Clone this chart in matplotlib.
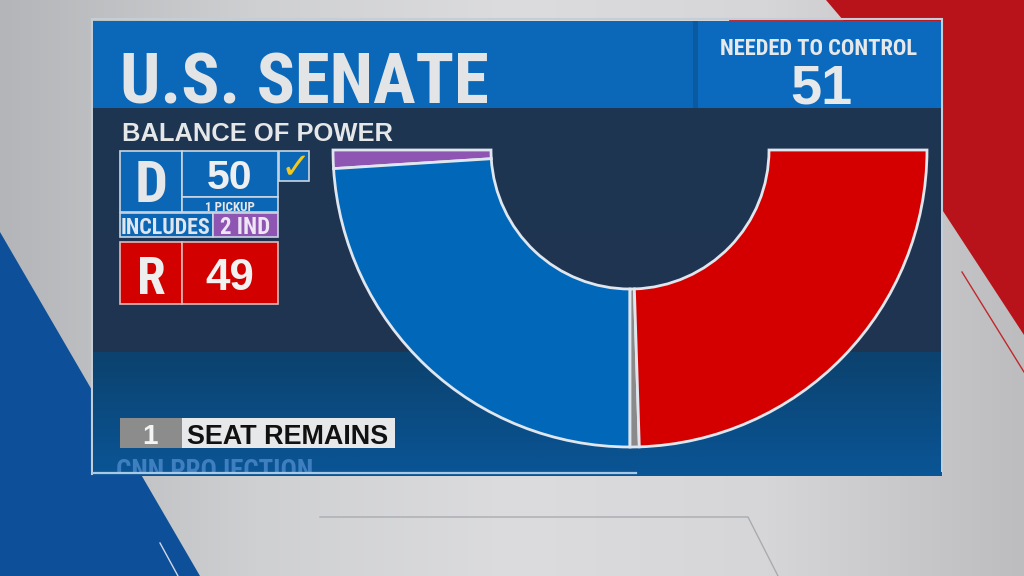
import matplotlib
matplotlib.use("Agg")
import matplotlib.pyplot as plt
import numpy as np
from matplotlib import font_manager
from matplotlib.colors import LinearSegmentedColormap
from matplotlib.patches import Polygon, Rectangle
from matplotlib.transforms import Bbox, TransformedBbox

# seats around the arc, left to right
parties = ["IND", "DEM", "UNCALLED", "REP"]
seats = [2, 48, 1, 49]
seat_colors = ["#8e55b3", "#0067b9", "#8a8a8a", "#d40000"]

dem_total = 50
rep_total = 49
ind_count = 2
pickups = 1
needed = 51
remaining = 1

installed = {f.name for f in font_manager.fontManager.ttflist}


def pick(*names):
    for n in names:
        if n in installed:
            return n
    return "DejaVu Sans"


NARROW = pick("Liberation Sans Narrow", "Roboto Condensed", "DejaVu Sans")
WIDE = pick("Liberation Sans", "Roboto", "DejaVu Sans")


def px(p):
    # pixel height of the em -> points at 100 dpi
    return p * 0.72


def txt(ax, x, y, s, size, color, fam=None, ha="left", zorder=7, **kw):
    fam = fam or NARROW
    return ax.text(x, y, s, fontsize=px(size), family=[fam, "DejaVu Sans"],
                   fontweight="bold", color=color, ha=ha, va="baseline",
                   zorder=zorder, **kw)


def vgrad(ax, x0, x1, y0, y1, c0, c1, z):
    cm = LinearSegmentedColormap.from_list("g", [c0, c1])
    ax.imshow(np.linspace(0, 1, 64).reshape(-1, 1), cmap=cm, aspect="auto",
              extent=(x0, x1, y1, y0), zorder=z, interpolation="bicubic")


def box(ax, x, y, w, h, fc, z=4, ec="#c9d5e2", lw=1.2):
    ax.add_patch(Rectangle((x, y), w, h, facecolor=fc, edgecolor=ec,
                           linewidth=lw, zorder=z))


fig = plt.figure(figsize=(10.24, 5.76), dpi=100)
ax = fig.add_axes([0, 0, 1, 1])

# studio backdrop
bg = LinearSegmentedColormap.from_list(
    "bg", ["#b4b5b8", "#cfd0d2", "#dcdcde", "#d6d6d8", "#bdbdbf"])
ax.imshow(np.linspace(0, 1, 256).reshape(1, -1), cmap=bg, aspect="auto",
          extent=(0, 1024, 576, 0), zorder=0)
ax.add_patch(Polygon([(0, 232), (200, 576), (0, 576)], closed=True,
                     facecolor="#0d4f98", edgecolor="none", zorder=1))
ax.add_patch(Polygon([(826, 0), (1024, 0), (1024, 335), (941, 208), (860, 40)],
                     closed=True, facecolor="#b8121a", edgecolor="none", zorder=1))
ax.plot([730, 941], [19, 19], color="#b8121a", lw=2, zorder=1)
ax.plot([962, 1024], [272, 372], color="#c0282c", lw=1, zorder=1)
ax.plot([320, 748, 778], [517, 517, 576], color="#a8abb0", lw=1, zorder=1)
ax.plot([160, 178], [543, 576], color="#d0d8e8", lw=1, zorder=2)

# panel
ax.add_patch(Rectangle((92, 19), 850, 455, facecolor="none",
                       edgecolor="#c4ced8", lw=1.5, zorder=2))
vgrad(ax, 93, 941, 108, 352, "#1f3652", "#1e3450", 2)
vgrad(ax, 93, 941, 352, 476, "#0c426e", "#0a5596", 2)
ax.add_patch(Rectangle((636, 472), 306, 4, facecolor="#0a5596",
                       edgecolor="none", zorder=2))
ax.plot([93, 636], [472.5, 472.5], color="#a9c9e4", lw=1.6, zorder=8)

# header
ax.add_patch(Rectangle((93, 21), 602, 87, facecolor="#0b68b9",
                       edgecolor="none", zorder=3))
ax.add_patch(Rectangle((695, 21), 246, 87, facecolor="#0b6abd",
                       edgecolor="none", zorder=3))
ax.add_patch(Rectangle((693, 21), 5, 87, facecolor="#0a5aa2",
                       edgecolor="none", zorder=3))
txt(ax, 120, 103, "U.S. SENATE", 71, "#e3e4e6")
txt(ax, 819, 55, "NEEDED TO CONTROL", 22.5, "#e6e8ea", ha="center")
txt(ax, 821, 103, str(needed), 56, "#e6e8ea", fam=WIDE, ha="center")

# balance of power tiles
txt(ax, 122, 141, "BALANCE OF POWER", 25.5, "#e6e7e9", fam=WIDE)
box(ax, 120, 151, 62, 61, "#0b66b6")
box(ax, 182, 151, 96, 46, "#0b66b6")
box(ax, 182, 197, 96, 15, "#0b66b6")
box(ax, 279, 151, 30, 30, "#0b66b6")
txt(ax, 151, 202, "D", 58, "#e6e7e9", ha="center")
txt(ax, 230, 189, str(dem_total), 41, "#eeeff1", fam=WIDE, ha="center")
txt(ax, 230, 211, f"{pickups} PICKUP", 13, "#e6e7e9", ha="center")
ax.text(296, 178, "\u2713", fontsize=px(36), family="DejaVu Sans",
        fontweight="bold", color="#f2c81e", ha="center", va="baseline",
        zorder=7)

box(ax, 120, 213, 93, 24, "#0b66b6")
box(ax, 213, 213, 65, 24, "#8e55b3")
txt(ax, 166, 234, "INCLUDES", 22, "#dfe6ee", ha="center")
txt(ax, 245, 234, f"{ind_count} IND", 23, "#eee6f4", ha="center")

box(ax, 120, 242, 62, 62, "#d30000", ec="#e2b8b8")
box(ax, 182, 242, 96, 62, "#d30000", ec="#e2b8b8")
txt(ax, 151, 294, "R", 52, "#eeeeee", ha="center")
txt(ax, 230, 290, str(rep_total), 44, "#f2f2f2", fam=WIDE, ha="center")

# seats remaining banner
ax.add_patch(Rectangle((120, 418), 62, 30, facecolor="#8c8c8c",
                       edgecolor="none", zorder=4))
ax.add_patch(Rectangle((182, 418), 213, 30, facecolor="#e7e8ea",
                       edgecolor="none", zorder=4))
txt(ax, 150, 444, str(remaining), 28, "#f4f4f4", fam=WIDE, ha="center")
txt(ax, 187, 444, "SEAT REMAINS", 27, "#111111", fam=WIDE)

t = txt(ax, 116, 479, "CNN PROJECTION", 27, "#3f7fbf", zorder=5)
t.set_clip_box(TransformedBbox(Bbox([[93, 430], [640, 471.5]]), ax.transData))
t.set_clip_on(True)

# the arc of seats, drawn as the lower half of a ring
wedges, _ = ax.pie(seats + [sum(seats)], colors=seat_colors + ["none"],
                   startangle=180, counterclock=False, radius=297,
                   center=(630, 150),
                   wedgeprops=dict(width=158, edgecolor="#dfe6ee",
                                   linewidth=2))
wedges[-1].set_visible(False)
for w in wedges:
    w.set_zorder(5)

ax.set_xlim(0, 1024)
ax.set_ylim(576, 0)
ax.set_aspect("equal")
ax.axis("off")

fig.savefig("out.png", dpi=100)
